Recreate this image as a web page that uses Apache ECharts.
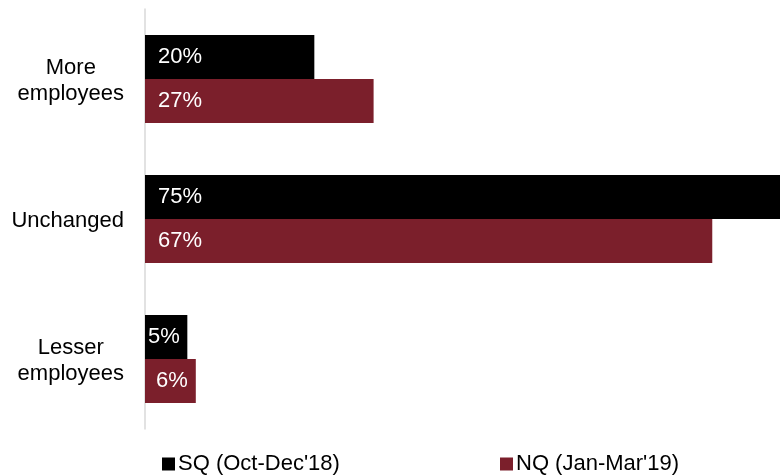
<!DOCTYPE html>
<html>
<head>
<meta charset="utf-8">
<script src="https://cdn.jsdelivr.net/npm/echarts@6/dist/echarts.min.js"></script>
<style>
  html, body { margin: 0; padding: 0; background: #fff; }
  #chart { width: 780px; height: 475px; }
</style>
</head>
<body>
<div id="chart"></div>
<script>
var categories = ['More\nemployees', 'Unchanged', 'Lesser\nemployees'];
var seriesNames = ["SQ (Oct-Dec'18)", "NQ (Jan-Mar'19)"];
var sqValues = [20, 75, 5];
var nqValues = [27, 67, 6];

var myChart = echarts.init(document.getElementById('chart'));

// small bars get a tighter label offset
function toData(values) {
  return values.map(function (v) {
    return v < 10 ? { value: v, label: { distance: v < 6 ? 3 : 11 } } : v;
  });
}

var font = 'Liberation Sans, Arial, sans-serif';

var option = {
  animation: false,
  grid: { left: 145, right: 0, top: 9, bottom: 46 },
  xAxis: {
    type: 'value',
    min: 0,
    max: 75,
    show: false
  },
  yAxis: {
    type: 'category',
    inverse: true,
    data: categories,
    axisLine: { show: true, lineStyle: { color: '#d9d9d9', width: 1.5 } },
    axisTick: { show: false },
    axisLabel: {
      margin: 21,
      padding: [4, 0, 0, 0],
      formatter: function (v) {
        return v.split('\n').map(function (s) { return '{c|' + s + '}'; }).join('\n');
      },
      rich: {
        c: { align: 'center', fontSize: 22, lineHeight: 26, color: '#000', fontFamily: font }
      }
    }
  },
  legend: [
    {
      data: [seriesNames[0]], left: 162, top: 453, padding: 0, icon: 'rect',
      itemWidth: 13, itemHeight: 13, itemGap: 0,
      textStyle: { fontSize: 22, color: '#000', fontFamily: font, padding: [0, 0, 0, -2] }
    },
    {
      data: [seriesNames[1]], left: 500, top: 453, padding: 0, icon: 'rect',
      itemWidth: 13, itemHeight: 13, itemGap: 0,
      textStyle: { fontSize: 22, color: '#000', fontFamily: font, padding: [0, 0, 0, -2] }
    }
  ],
  series: [
    {
      name: seriesNames[0],
      type: 'bar',
      data: toData(sqValues),
      barWidth: 44,
      barGap: '0%',
      itemStyle: { color: '#000000' },
      label: {
        show: true, position: 'insideLeft', distance: 13,
        formatter: '{c}%', color: '#fff', fontSize: 22, fontFamily: font
      }
    },
    {
      name: seriesNames[1],
      type: 'bar',
      data: toData(nqValues),
      barWidth: 44,
      barGap: '0%',
      itemStyle: { color: '#7b1f2b' },
      label: {
        show: true, position: 'insideLeft', distance: 13,
        formatter: '{c}%', color: '#fff', fontSize: 22, fontFamily: font
      }
    }
  ]
};

myChart.setOption(option);
</script>
</body>
</html>
